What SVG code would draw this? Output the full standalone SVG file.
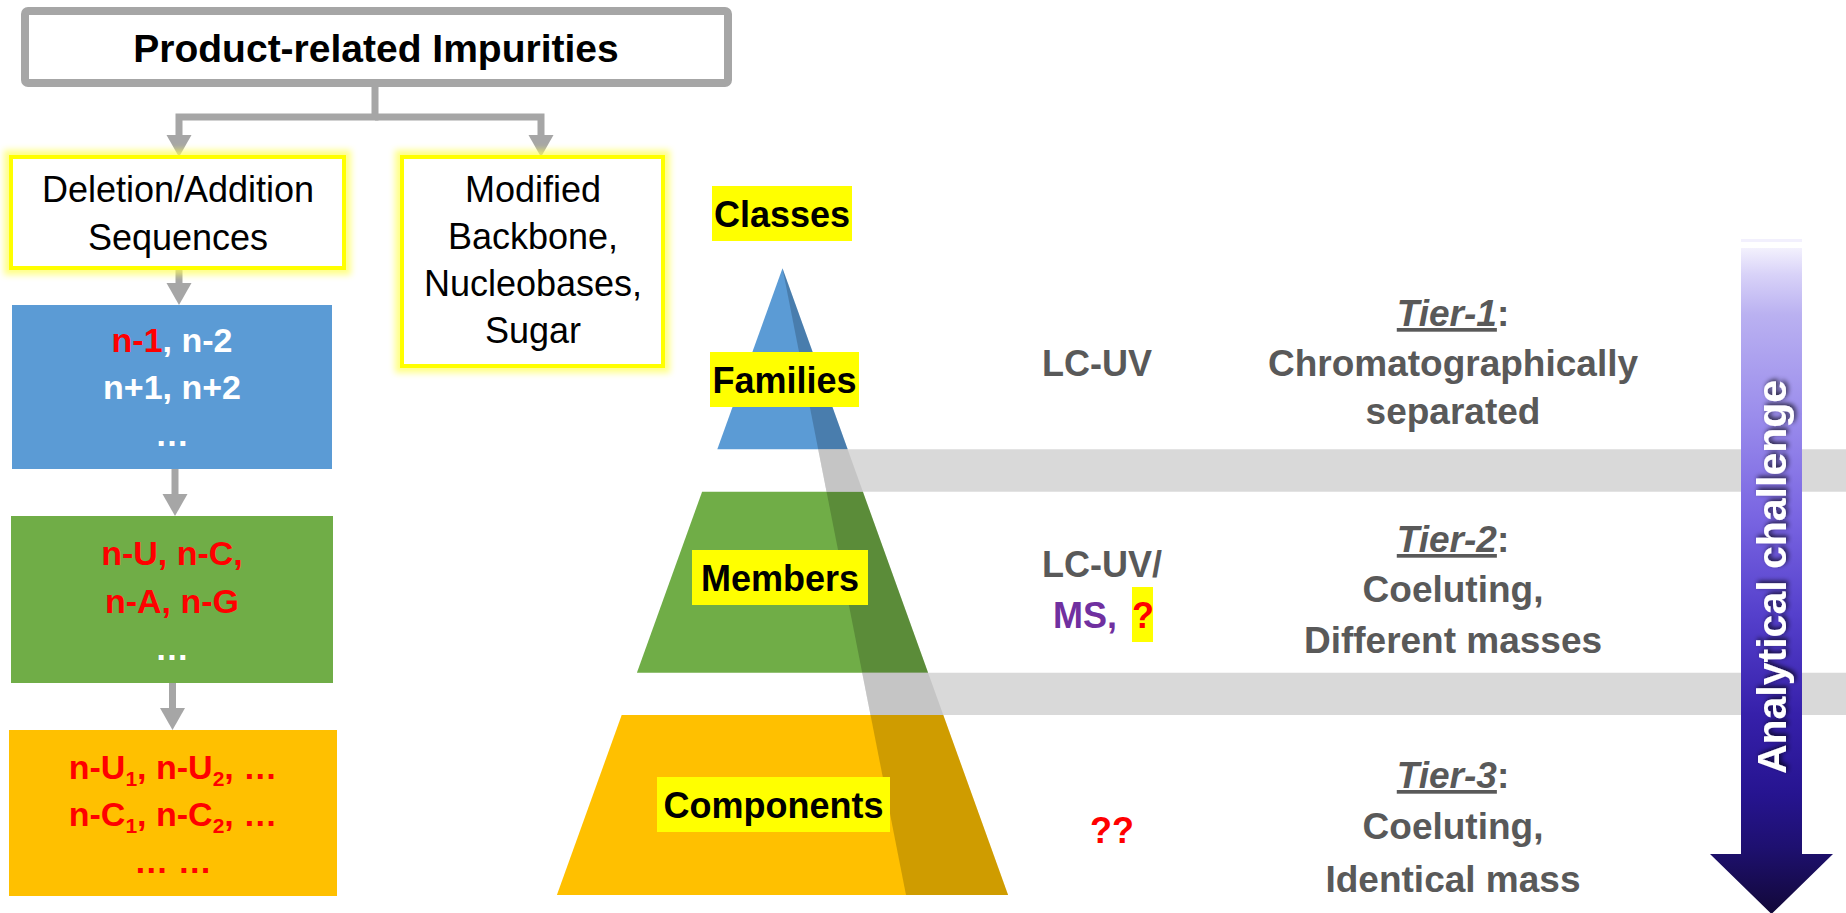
<svg xmlns="http://www.w3.org/2000/svg" width="1846" height="913" viewBox="0 0 1846 913">
<style>
text { font-family: "Liberation Sans", Arial, sans-serif; }
.b { font-weight: bold; }
.gray { fill: #595959; }
.red { fill: #ff0000; }
.wh { fill: #ffffff; }
.blk { fill: #000000; }
.hl { fill: #ffff00; }
.conn { stroke: #a6a6a6; stroke-width: 7; fill: none; marker-end: url(#ah); }
.glow { fill: none; stroke: #ffff55; stroke-width: 14; opacity: 0.7; filter: url(#blur); }
.ybox { fill: #ffffff; stroke: #ffff00; stroke-width: 4; }
.lbl { font-size: 36px; font-weight: bold; text-anchor: middle; }
.tier { font-size: 37px; font-weight: bold; text-anchor: middle; fill: #595959; }
.box { font-size: 34px; font-weight: bold; text-anchor: middle; }
.cat { font-size: 36px; text-anchor: middle; fill: #000; }
</style>
<defs>
<marker id="ah" viewBox="0 -13 23 26" refX="1" refY="0" markerWidth="23" markerHeight="26" markerUnits="userSpaceOnUse" orient="auto">
<path d="M0,-12.5 L22,0 L0,12.5 Z" fill="#a6a6a6"/>
</marker>
<filter id="blur" x="-20%" y="-20%" width="140%" height="140%">
<feGaussianBlur stdDeviation="3"/>
</filter>
<filter id="tshadow" x="-10%" y="-30%" width="120%" height="160%">
<feGaussianBlur in="SourceAlpha" stdDeviation="2.5"/>
<feOffset dx="2" dy="2" result="o"/>
<feComponentTransfer><feFuncA type="linear" slope="0.75"/></feComponentTransfer>
<feMerge><feMergeNode/><feMergeNode in="SourceGraphic"/></feMerge>
</filter>
<linearGradient id="arrowGrad" gradientUnits="userSpaceOnUse" x1="0" y1="248" x2="0" y2="914">
<stop offset="0" stop-color="#f3f1fd"/>
<stop offset="0.04" stop-color="#d8d2f8"/>
<stop offset="0.1" stop-color="#bab1f1"/>
<stop offset="0.25" stop-color="#9b8dec"/>
<stop offset="0.4" stop-color="#7a66e2"/>
<stop offset="0.55" stop-color="#5540cc"/>
<stop offset="0.7" stop-color="#3620aa"/>
<stop offset="0.82" stop-color="#261490"/>
<stop offset="0.9" stop-color="#1e1070"/>
<stop offset="1" stop-color="#120838"/>
</linearGradient>
</defs>

<rect width="1846" height="913" fill="#ffffff"/>

<!-- Connectors -->
<g id="connectors">
<path class="conn" d="M375,87 V117 H179 V136"/>
<path class="conn" d="M375,117 H541 V136"/>
<path class="conn" d="M179,270 V284"/>
<path class="conn" d="M175,469 V495"/>
<path class="conn" d="M172.5,683 V709"/>
</g>

<!-- Title -->
<g id="title">
<rect x="25" y="11" width="703" height="72" rx="3" fill="#ffffff" stroke="#a6a6a6" stroke-width="8"/>
<text x="376" y="62" class="b blk" font-size="39" text-anchor="middle">Product-related Impurities</text>
</g>

<!-- Deletion/Addition -->
<g id="deletion-addition">
<rect class="glow" x="11" y="157" width="333" height="111"/>
<rect class="ybox" x="11" y="157" width="333" height="111"/>
<text class="cat" x="178" y="202">Deletion/Addition</text>
<text class="cat" x="178" y="250">Sequences</text>
</g>

<!-- Modified -->
<g id="modified">
<rect class="glow" x="402" y="157" width="261" height="209"/>
<rect class="ybox" x="402" y="157" width="261" height="209"/>
<text class="cat" x="533" y="202">Modified</text>
<text class="cat" x="533" y="249">Backbone,</text>
<text class="cat" x="533" y="296">Nucleobases,</text>
<text class="cat" x="533" y="343">Sugar</text>
</g>

<!-- Blue box -->
<g id="blue-box">
<rect x="12" y="305" width="320" height="164" fill="#5b9bd5"/>
<text class="box" x="172" y="352"><tspan class="red">n-1</tspan><tspan class="wh">, n-2</tspan></text>
<text class="box wh" x="172" y="399">n+1, n+2</text>
<text class="box wh" x="172" y="446">…</text>
</g>

<!-- Green box -->
<g id="green-box">
<rect x="11" y="516" width="322" height="167" fill="#70ad47"/>
<text class="box red" x="172" y="565">n-U, n-C,</text>
<text class="box red" x="172" y="613">n-A, n-G</text>
<text class="box wh" x="172" y="660">…</text>
</g>

<!-- Orange box -->
<g id="orange-box">
<rect x="9" y="730" width="328" height="166" fill="#ffc000"/>
<text class="box red" x="173" y="779">n-U<tspan font-size="21" dy="7">1</tspan><tspan dy="-7">, n-U</tspan><tspan font-size="21" dy="7">2</tspan><tspan dy="-7">, …</tspan></text>
<text class="box red" x="173" y="826">n-C<tspan font-size="21" dy="7">1</tspan><tspan dy="-7">, n-C</tspan><tspan font-size="21" dy="7">2</tspan><tspan dy="-7">, …</tspan></text>
<text class="box red" x="173" y="873">… …</text>
</g>

<!-- Pyramid -->
<g id="pyramid">
<polygon id="tier-families" points="782.5,268.3 847.7,449.3 717.3,449.3" fill="#5b9bd5"/>
<polygon id="tier-members" points="702.1,491.7 862.9,491.7 928.1,672.7 636.9,672.7" fill="#70ad47"/>
<polygon id="tier-components" points="621.7,715 943.3,715 1008.1,895 556.9,895" fill="#ffc000"/>
<polygon id="side-shade" points="782.5,268.3 1008.1,895 906,895" fill="#000000" fill-opacity="0.19"/>
</g>

<!-- Bands -->
<g id="bands">
<polygon points="818.2,449.3 1846,449.3 1846,491.7 826.6,491.7" fill="#bebebe" fill-opacity="0.587"/>
<polygon points="862.2,672.7 1846,672.7 1846,715 870.5,715" fill="#bebebe" fill-opacity="0.587"/>
</g>

<!-- Pyramid labels -->
<g id="label-classes">
<rect class="hl" x="712" y="186" width="140" height="55"/>
<text class="lbl blk" x="782" y="227">Classes</text>
</g>
<g id="label-families">
<rect class="hl" x="710" y="352" width="149" height="55"/>
<text class="lbl blk" x="784.5" y="393">Families</text>
</g>
<g id="label-members">
<rect class="hl" x="692" y="550" width="176" height="55"/>
<text class="lbl blk" x="780" y="591">Members</text>
</g>
<g id="label-components">
<rect class="hl" x="657" y="777" width="233" height="55"/>
<text class="lbl blk" x="773.5" y="818">Components</text>
</g>

<!-- Methods -->
<g id="method-1">
<text class="b gray" x="1042" y="376" font-size="36">LC-UV</text>
</g>
<g id="method-2">
<text class="b gray" x="1042" y="577" font-size="36">LC-UV/</text>
<rect class="hl" x="1132" y="587" width="21" height="55"/>
<text class="b" x="1053" y="628" font-size="36"><tspan fill="#7030a0">MS, </tspan><tspan x="1132" class="red">?</tspan></text>
</g>
<g id="method-3">
<text class="b red" x="1112" y="843" font-size="36" text-anchor="middle">??</text>
</g>

<!-- Tiers -->
<g id="tier-1">
<text class="tier" x="1453" y="326"><tspan font-style="italic" text-decoration="underline">Tier-1</tspan>:</text>
<text class="tier" x="1453" y="376">Chromatographically</text>
<text class="tier" x="1453" y="424">separated</text>
</g>
<g id="tier-2">
<text class="tier" x="1453" y="552"><tspan font-style="italic" text-decoration="underline">Tier-2</tspan>:</text>
<text class="tier" x="1453" y="602">Coeluting,</text>
<text class="tier" x="1453" y="653">Different masses</text>
</g>
<g id="tier-3">
<text class="tier" x="1453" y="788"><tspan font-style="italic" text-decoration="underline">Tier-3</tspan>:</text>
<text class="tier" x="1453" y="839">Coeluting,</text>
<text class="tier" x="1453" y="892">Identical mass</text>
</g>

<!-- Analytical challenge arrow -->
<g id="challenge-arrow">
<rect x="1741" y="239" width="61" height="3" fill="#f2f0fd"/>
<path d="M1741,248 H1802 V854 H1833 L1771.5,914 L1710,854 H1741 Z" fill="url(#arrowGrad)"/>
<text class="b wh" x="0" y="0" font-size="41" text-anchor="middle" filter="url(#tshadow)" transform="translate(1786,577) rotate(-90)">Analytical challenge</text>
</g>
</svg>
